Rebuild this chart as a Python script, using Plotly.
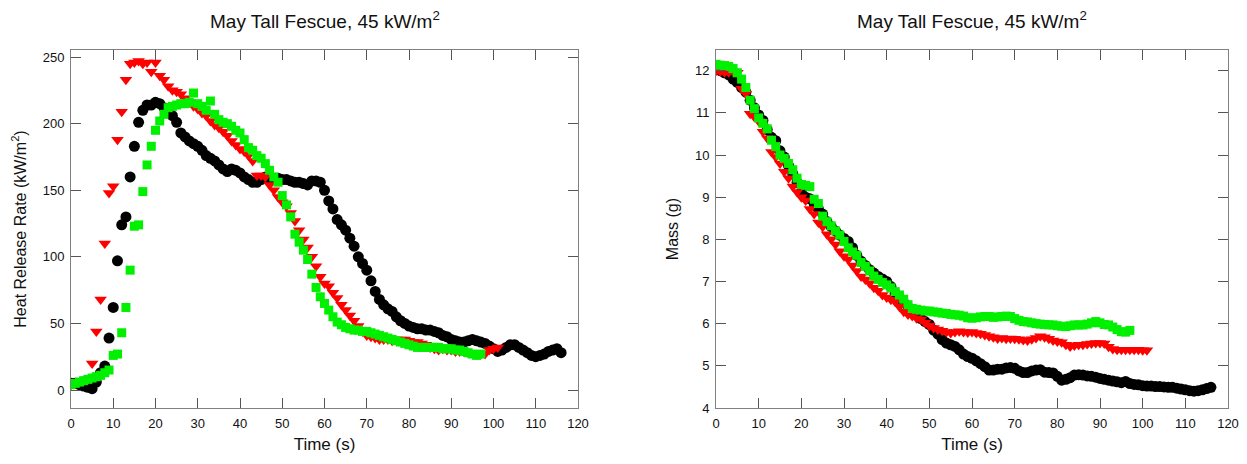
import plotly.graph_objects as go

# ---- Heat release rate (kW/m2), 1 s sampling ----
hrr_black = [5, 5, 4, 3, 2, 1, 6, 13, 18, 39, 62, 97, 124, 130, 160, 183, 201, 210, 214, 214,
             216, 215, 212, 209, 206, 201, 193, 190, 187, 185, 183, 180, 176, 174, 172, 169, 166, 164, 166, 165,
             163, 160, 158, 156, 156, 158, 160, 159, 159, 159, 158, 158, 157, 156, 156, 155, 154, 157, 157, 156,
             150, 142, 136, 128, 124, 120, 114, 108, 100, 95, 90, 82, 74, 68, 64, 61, 59, 55, 52, 50,
             48, 47, 46, 46, 45, 45, 44, 43, 41, 40, 38, 37, 36, 36, 37, 38, 37, 36, 35, 33,
             31, 29, 30, 32, 34, 34, 32, 30, 28, 26, 25, 26, 27, 29, 30, 31, 28]
hrr_red = [4, 5, 6, 7, 8, 20, 44, 68, 110, 148, 153, 188, 209, 233, 245, 246, 247, 245, 246, 239,
           246, 236, 233, 228, 225, 224, 222, 219, 216, 213, 211, 208, 206, 202, 199, 197, 194, 191, 187, 184,
           181, 179, 176, 172, 161, 161, 160, 154, 150, 145, 141, 138, 133, 127, 120, 113, 107, 100, 93, 85,
           80, 78, 73, 69, 64, 60, 56, 52, 48, 44, 41, 40, 39, 38, 38, 38, 37, 38, 38, 38,
           37, 36, 36, 35, 34, 32, 31, 30, 31, 30, 30, 29, 29, 29, 28, 28, 27, 27, 27, 30,
           31, 32]
hrr_green = [4, 5, 6, 7, 8, 9, 10, 11, 13, 15, 26, 27, 43, 62, 90, 123, 124, 149, 169, 183,
             195, 202, 207, 212, 213, 214, 215, 215, 216, 223, 215, 213, 210, 217, 207, 203, 201, 200, 198, 195,
             193, 188, 182, 180, 176, 174, 170, 165, 160, 156, 146, 139, 130, 117, 111, 105, 98, 87, 77, 70,
             65, 60, 55, 51, 49, 47, 46, 45, 45, 44, 44, 43, 42, 41, 40, 39, 38, 37, 36, 35,
             34, 33, 32, 32, 32, 32, 32, 32, 31, 31, 31, 30, 30, 29, 28, 27, 26, 27]

# ---- Mass (g), 1 s sampling ----
mass_black = [12.05, 12.0, 11.95, 11.9, 11.8, 11.72, 11.6, 11.49, 11.3, 11.12, 10.95, 10.82, 10.6, 10.42, 10.34,
              10.1, 9.95, 9.75, 9.55, 9.35, 9.12, 9.0, 8.96, 8.85, 8.72, 8.6, 8.42, 8.3, 8.2, 8.1,
              8.02, 7.95, 7.8, 7.62, 7.48, 7.38, 7.28, 7.2, 7.12, 7.06, 7.0, 6.88, 6.72, 6.6, 6.5,
              6.4, 6.3, 6.22, 6.12, 6.05, 5.98, 5.85, 5.75, 5.62, 5.54, 5.5, 5.46, 5.38, 5.28, 5.22,
              5.18, 5.12, 5.05, 4.98, 4.9, 4.9, 4.92, 4.92, 4.95, 4.96, 4.94, 4.88, 4.84, 4.84, 4.88,
              4.9, 4.91, 4.85, 4.84, 4.83, 4.75, 4.66, 4.68, 4.72, 4.78, 4.79, 4.78, 4.76, 4.75, 4.73,
              4.7, 4.68, 4.66, 4.64, 4.62, 4.6, 4.63, 4.58, 4.56, 4.55, 4.53, 4.52, 4.52, 4.51, 4.51,
              4.5, 4.49, 4.49, 4.47, 4.45, 4.43, 4.41, 4.4, 4.41, 4.43, 4.46, 4.49]
mass_red = [12.0, 11.98, 11.96, 11.96, 11.98, 11.95, 11.57, 11.45, 10.98, 10.9, 10.8, 10.55, 10.4, 10.07, 9.95,
            9.8, 9.6, 9.45, 9.25, 9.12, 9.0, 8.92, 8.72, 8.6, 8.4, 8.3, 8.12, 8.0, 7.88, 7.72,
            7.6, 7.52, 7.38, 7.25, 7.12, 7.05, 6.96, 6.85, 6.78, 6.68, 6.62, 6.57, 6.52, 6.4, 6.28,
            6.22, 6.18, 6.13, 6.1, 6.02, 5.95, 5.9, 5.86, 5.83, 5.8, 5.78, 5.8, 5.82, 5.8, 5.79,
            5.8, 5.78, 5.76, 5.73, 5.7, 5.68, 5.65, 5.66, 5.64, 5.65, 5.64, 5.63, 5.61, 5.6, 5.63,
            5.66, 5.7, 5.68, 5.64, 5.6, 5.58, 5.56, 5.5, 5.46, 5.48, 5.5, 5.5, 5.52, 5.53, 5.54,
            5.54, 5.53, 5.45, 5.4, 5.38, 5.38, 5.38, 5.38, 5.38, 5.38, 5.37, 5.37]
mass_green = [12.15, 12.13, 12.12, 12.1, 12.05, 11.95, 11.8, 11.6, 11.3, 11.1, 10.88, 10.75, 10.62, 10.35, 10.2,
              10.0, 9.92, 9.8, 9.65, 9.45, 9.3, 9.28, 9.25, 8.95, 8.85, 8.55, 8.42, 8.32, 8.2, 8.1,
              7.95, 7.8, 7.7, 7.62, 7.45, 7.36, 7.25, 7.13, 7.05, 6.98, 6.92, 6.85, 6.76, 6.68, 6.58,
              6.45, 6.36, 6.34, 6.32, 6.3, 6.3, 6.28, 6.27, 6.25, 6.24, 6.22, 6.21, 6.2, 6.18, 6.14,
              6.13, 6.14, 6.16, 6.17, 6.17, 6.15, 6.16, 6.17, 6.18, 6.17, 6.12, 6.08, 6.05, 6.04, 6.02,
              6.0, 5.99, 5.98, 5.97, 5.97, 5.95, 5.94, 5.93, 5.95, 5.97, 5.97, 5.97, 5.99, 6.02, 6.05,
              6.02, 5.98, 5.97, 5.92, 5.86, 5.81, 5.8, 5.84]

title_text = "May Tall Fescue, 45 kW/m<sup>2</sup>"
x_ticks = list(range(0, 121, 10))
hrr_ticks = [0, 50, 100, 150, 200, 250]
mass_ticks = [4, 5, 6, 7, 8, 9, 10, 11, 12]

FONT = "Liberation Sans, Arial, sans-serif"
BLACK = "#000000"
RED = "#ff0000"
GREEN = "#00f000"


def t(n):
    return list(range(n))


fig = go.Figure()
series = [
    (hrr_black, mass_black, BLACK, "circle", 11),
    (hrr_red, mass_red, RED, "triangle-down", 11),
    (hrr_green, mass_green, GREEN, "square", 9),
]
for hrr, mass, col, sym, sz in series:
    fig.add_trace(go.Scatter(x=t(len(hrr)), y=hrr, mode="markers", xaxis="x", yaxis="y",
                             marker=dict(color=col, symbol=sym, size=sz, line=dict(width=0)),
                             showlegend=False))
for hrr, mass, col, sym, sz in series:
    fig.add_trace(go.Scatter(x=t(len(mass)), y=mass, mode="markers", xaxis="x2", yaxis="y2",
                             marker=dict(color=col, symbol=sym, size=sz, line=dict(width=0)),
                             showlegend=False))

# page body has an 8px margin in the browser; compensate
OFF = 8
W, H = 1247 - OFF, 464 - OFF
top, bot = 50 - OFF, 408 - OFF
ydom = [1 - bot / H, 1 - top / H]
L1, R1 = 71 - OFF, 578 - OFF
L2, R2 = 716 - OFF, 1228 - OFF

axis_common = dict(
    showline=True, linecolor="#808080", linewidth=1, mirror="ticks",
    ticks="inside", ticklen=10, tickwidth=1, tickcolor="#555555",
    showgrid=False, zeroline=False, automargin=False,
    tickfont=dict(family=FONT, size=13, color="#111111"),
)
XTFONT = dict(family=FONT, size=17, color="#111111")
YTFONT = dict(family=FONT, size=16, color="#111111")

fig.update_layout(
    width=W, height=H,
    margin=dict(l=0, r=0, t=0, b=0, autoexpand=False),
    paper_bgcolor="white", plot_bgcolor="white",
    font=dict(family=FONT, color="#111111"),
    xaxis=dict(domain=[L1 / W, R1 / W], range=[0, 120], tickvals=x_ticks, anchor="y",
               title=dict(text="Time (s)", font=XTFONT, standoff=8),
               ticklabelstandoff=3, **axis_common),
    yaxis=dict(domain=ydom, range=[-13.5, 255.3], tickvals=hrr_ticks, anchor="x",
               title=dict(text="Heat Release Rate (kW/m<sup>2</sup>)", font=YTFONT, standoff=12),
               ticklabelstandoff=3, **axis_common),
    xaxis2=dict(domain=[L2 / W, R2 / W], range=[0, 120], tickvals=x_ticks, anchor="y2",
                title=dict(text="Time (s)", font=XTFONT, standoff=8),
                ticklabelstandoff=3, **axis_common),
    yaxis2=dict(domain=ydom, range=[4, 12.49], tickvals=mass_ticks, anchor="x2",
                title=dict(text="Mass (g)", font=YTFONT, standoff=12),
                ticklabelstandoff=3, **axis_common),
    annotations=[
        dict(text=title_text, x=(L1 + R1) / 2 / W, y=1 - (20 - OFF) / H, xref="paper", yref="paper",
             xanchor="center", yanchor="middle", showarrow=False,
             font=dict(family=FONT, size=19, color="#111111")),
        dict(text=title_text, x=(L2 + R2) / 2 / W, y=1 - (20 - OFF) / H, xref="paper", yref="paper",
             xanchor="center", yanchor="middle", showarrow=False,
             font=dict(family=FONT, size=19, color="#111111")),
    ],
)

fig.write_html("out.html")
